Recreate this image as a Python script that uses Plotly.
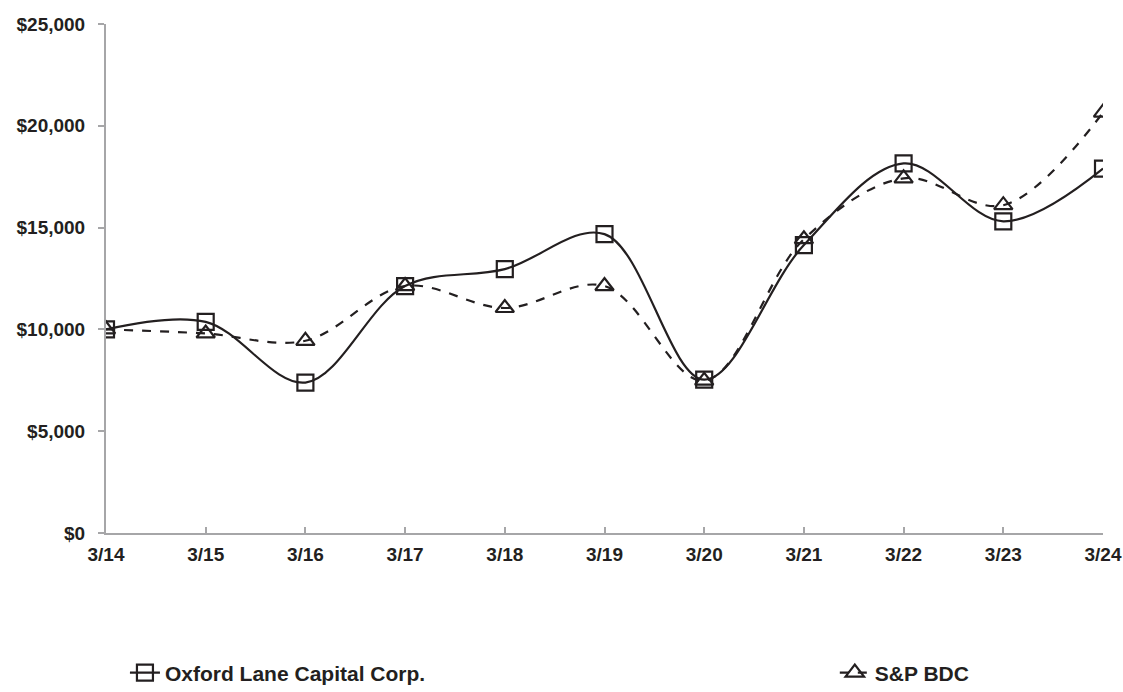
import plotly.graph_objects as go

periods = ["3/14", "3/15", "3/16", "3/17", "3/18", "3/19", "3/20", "3/21", "3/22", "3/23", "3/24"]
oxford = [10000, 10370, 7390, 12130, 12960, 14680, 7530, 14140, 18150, 15310, 17900]
spbdc = [10000, 9800, 9440, 12130, 11050, 12130, 7480, 14430, 17420, 16100, 20650]
y_ticks = [0, 5000, 10000, 15000, 20000, 25000]
y_labels = ["$0", "$5,000", "$10,000", "$15,000", "$20,000", "$25,000"]

ink = "#231f20"
axis_col = "#a6a6a8"
font_fam = "Liberation Sans, Arial, sans-serif"

fig = go.Figure()
fig.add_trace(go.Scatter(
    x=periods, y=oxford, name="Oxford Lane Capital Corp.",
    mode="lines+markers", legend="legend",
    line=dict(color=ink, width=2.2, shape="spline", smoothing=1.0),
    marker=dict(symbol="square-open", size=16, color=ink, line=dict(width=2.2, color=ink)),
))
fig.add_trace(go.Scatter(
    x=periods, y=spbdc, name="S&P BDC",
    mode="lines+markers", legend="legend2",
    line=dict(color=ink, width=2.2, dash="dash", shape="spline", smoothing=1.0),
    marker=dict(symbol="triangle-up-open", size=16, color=ink, line=dict(width=2.2, color=ink)),
))

leg_font = dict(family=font_fam, size=21, color=ink, weight="bold")
fig.update_layout(
    width=1123, height=692,
    margin=dict(l=106, r=20, t=24, b=159, autoexpand=False),
    paper_bgcolor="white", plot_bgcolor="white",
    font=dict(family=font_fam, size=19, color=ink),
    showlegend=True,
    legend=dict(
        orientation="h", x=0.019, y=-0.275, xanchor="left", yanchor="middle",
        font=leg_font, itemwidth=30, bgcolor="rgba(0,0,0,0)",
    ),
    legend2=dict(
        orientation="h", x=0.731, y=-0.275, xanchor="left", yanchor="middle",
        font=leg_font, itemwidth=30, bgcolor="rgba(0,0,0,0)",
    ),
)
fig.update_xaxes(
    type="category", range=[0, 10], automargin=False,
    showline=True, linecolor=axis_col, linewidth=2,
    ticks="inside", ticklen=6, tickcolor=axis_col, tickwidth=2,
    ticklabelstandoff=3,
    showgrid=False, zeroline=False,
    tickfont=dict(family=font_fam, size=19, color=ink, weight="bold"),
)
fig.update_yaxes(
    range=[0, 25000], tickvals=y_ticks, ticktext=y_labels, automargin=False,
    showline=True, linecolor=axis_col, linewidth=2,
    ticks="outside", ticklen=6, tickcolor=axis_col, tickwidth=2,
    ticklabelstandoff=9,
    showgrid=False, zeroline=False,
    tickfont=dict(family=font_fam, size=19, color=ink, weight="bold"),
)

fig.write_html(
    "out.html",
    config={"displayModeBar": False},
    post_script="document.body.style.margin='0';document.body.style.overflow='hidden';",
)
